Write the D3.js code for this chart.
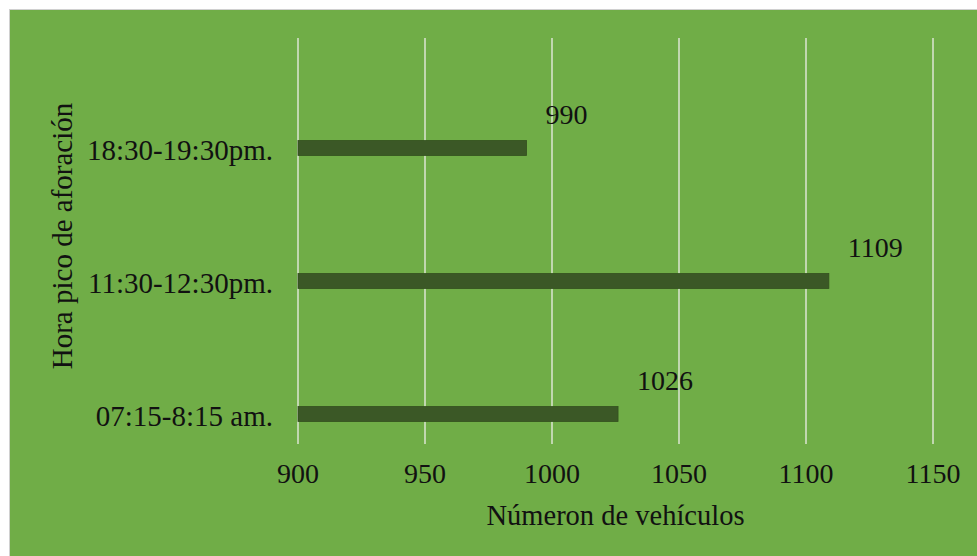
<!DOCTYPE html>
<html>
<head>
<meta charset="utf-8">
<script src="https://cdn.jsdelivr.net/npm/d3@7"></script>
<style>
  html, body { margin: 0; padding: 0; background: #ffffff; }
  svg { display: block; }
  text { font-family: "Liberation Serif", "Times New Roman", serif; fill: #111; }
</style>
</head>
<body>
<svg id="chart" width="977" height="556"></svg>
<script>
const categories = ["18:30-19:30pm.", "11:30-12:30pm.", "07:15-8:15 am."];
const values = [990, 1109, 1026];
const xTicks = [900, 950, 1000, 1050, 1100, 1150];
const xTitle = "Númeron de vehículos";
const yTitle = "Hora pico de aforación";

const svg = d3.select("#chart");
const W = 977, H = 556;

// background panel
svg.append("rect").attr("x", 0).attr("y", 0).attr("width", W).attr("height", H).attr("fill", "#ffffff");
svg.append("rect").attr("x", 9.5).attr("y", 9.5).attr("width", W).attr("height", H)
  .attr("fill", "#70AD47").attr("stroke", "#d0d0d0").attr("stroke-width", 1);

const x = d3.scaleLinear().domain([900, 1150]).range([298, 933]);
const y = d3.scalePoint().domain(categories).range([148, 414]);
const plotTop = 38, plotBottom = 444;

// gridlines
svg.append("g").selectAll("line").data(xTicks).join("line")
  .attr("x1", d => x(d)).attr("x2", d => x(d))
  .attr("y1", plotTop).attr("y2", plotBottom)
  .attr("stroke", "#d6e2cb").attr("stroke-width", 1.6);

// bars
const barH = 15;
svg.append("g").selectAll("rect").data(values).join("rect")
  .attr("x", x(900))
  .attr("y", (d, i) => y(categories[i]) - barH / 2)
  .attr("width", d => x(d) - x(900))
  .attr("height", barH)
  .attr("fill", "#3b5826")
  .attr("stroke", "#34501f").attr("stroke-width", 0.8);

// data labels
svg.append("g").selectAll("text").data(values).join("text")
  .attr("x", d => x(d) + 19)
  .attr("y", (d, i) => y(categories[i]) - 24)
  .attr("font-size", 28)
  .text(d => d);

// x tick labels
svg.append("g").selectAll("text").data(xTicks).join("text")
  .attr("x", d => x(d)).attr("y", 483)
  .attr("text-anchor", "middle").attr("font-size", 28)
  .text(d => d);

// category labels
svg.append("g").selectAll("text").data(categories).join("text")
  .attr("x", 273).attr("y", d => y(d) + 12)
  .attr("text-anchor", "end").attr("font-size", 29)
  .text(d => d);

// axis titles
svg.append("text").attr("x", (x(900) + x(1150)) / 2).attr("y", 525)
  .attr("text-anchor", "middle").attr("font-size", 28.5).text(xTitle);

svg.append("text").attr("transform", "translate(72,236) rotate(-90)")
  .attr("text-anchor", "middle").attr("font-size", 29).text(yTitle);
</script>
</body>
</html>
